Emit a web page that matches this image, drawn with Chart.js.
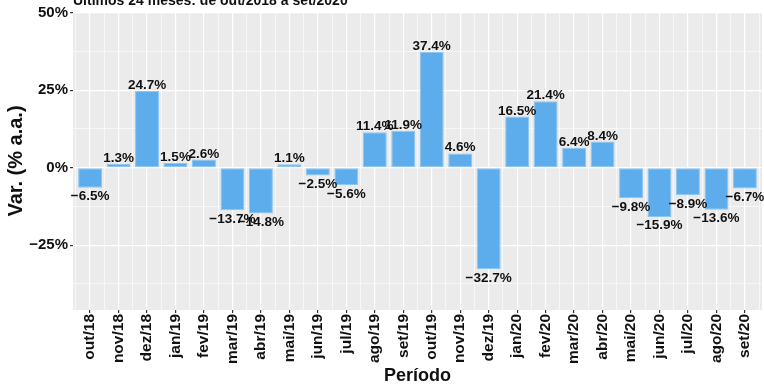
<!DOCTYPE html>
<html>
<head>
<meta charset="utf-8">
<script src="https://cdn.jsdelivr.net/npm/chart.js@4/dist/chart.umd.min.js"></script>
<style>
  html, body { margin: 0; padding: 0; background: #ffffff; }
  #wrap { width: 764px; height: 387px; position: relative; }
</style>
</head>
<body>
<div id="wrap"><canvas id="c" width="764" height="387"></canvas></div>
<script>
// Variação anual (% a.a.) por mês, de out/2018 a set/2020
const periodos = ['out/18','nov/18','dez/18','jan/19','fev/19','mar/19','abr/19','mai/19','jun/19','jul/19','ago/19','set/19',
                  'out/19','nov/19','dez/19','jan/20','fev/20','mar/20','abr/20','mai/20','jun/20','jul/20','ago/20','set/20'];
const variacao = [-6.5, 1.3, 24.7, 1.5, 2.6, -13.7, -14.8, 1.1, -2.5, -5.6, 11.4, 11.9,
                  37.4, 4.6, -32.7, 16.5, 21.4, 6.4, 8.4, -9.8, -15.9, -8.9, -13.6, -6.7];
const yTicksMajor = [-25, 0, 25, 50];
const yTicksMinor = [-37.5, -12.5, 12.5, 37.5];
const titulo = 'Últimos 24 meses: de out/2018 a set/2020';

const FONT = "'Liberation Sans', Arial, Helvetica, sans-serif";
const fmtPct = v => (v < 0 ? '\u2212' : '') + Math.abs(v).toFixed(1) + '%';
const fmtTick = v => (v < 0 ? '\u2212' : '') + Math.abs(v) + '%';

// grey panel behind the plot area
const panelBg = {
  id: 'panelBg',
  beforeDraw(chart) {
    const { ctx, chartArea: a } = chart;
    ctx.save();
    ctx.fillStyle = '#ebebeb';
    ctx.fillRect(a.left, a.top, a.right - a.left, a.bottom - a.top);
    ctx.restore();
  }
};

// value labels above / below each bar, and the heading line
const barLabels = {
  id: 'barLabels',
  afterDatasetsDraw(chart) {
    const { ctx } = chart;
    const meta = chart.getDatasetMeta(0);
    ctx.save();
    ctx.font = 'bold 13.5px ' + FONT;
    ctx.fillStyle = '#111111';
    ctx.textAlign = 'center';
    meta.data.forEach((bar, i) => {
      const v = variacao[i];
      if (v >= 0) {
        ctx.textBaseline = 'alphabetic';
        ctx.fillText(fmtPct(v), bar.x, bar.y - 2);
      } else {
        ctx.textBaseline = 'top';
        ctx.fillText(fmtPct(v), bar.x, bar.y + 2);
      }
    });
    ctx.font = 'bold 14px ' + FONT;
    ctx.textAlign = 'left';
    ctx.textBaseline = 'alphabetic';
    ctx.fillText(titulo, chart.chartArea.left, 4.5);
    ctx.restore();
  }
};

const isMajorX = v => Number.isInteger(v);
const isMajorY = v => yTicksMajor.includes(v);

new Chart(document.getElementById('c'), {
  type: 'bar',
  data: {
    datasets: [{
      data: variacao.map((v, i) => ({ x: i, y: v })),
      backgroundColor: '#5dadec',
      borderColor: '#8ec6f2',
      borderWidth: 1,
      borderSkipped: false,
      // grid ticks sit every half month, so the bar spans 1.68 of that step
      barPercentage: 1.68,
      categoryPercentage: 1.0
    }]
  },
  options: {
    responsive: false,
    animation: false,
    devicePixelRatio: 1,
    layout: { padding: { top: 12, right: 2, left: 0, bottom: 0 } },
    plugins: { legend: { display: false }, tooltip: { enabled: false }, title: { display: false } },
    scales: {
      x: {
        type: 'linear',
        min: -0.6,
        max: 23.6,
        offset: false,
        afterBuildTicks(scale) {
          const t = [];
          for (let v = -0.5; v <= 23.5; v += 0.5) t.push({ value: v });
          scale.ticks = t;
        },
        afterFit(scale) {
          scale.height = 77;
          scale.paddingLeft = 0;
          scale.paddingRight = 0;
        },
        border: { display: false },
        grid: {
          offset: false,
          color: '#ffffff',
          lineWidth: ctx => (ctx.tick && isMajorX(ctx.tick.value)) ? 1.2 : 0.6,
          tickColor: ctx => (ctx.tick && isMajorX(ctx.tick.value)) ? '#333333' : 'rgba(0,0,0,0)',
          tickLength: 3,
          drawTicks: true
        },
        ticks: {
          autoSkip: false,
          minRotation: 90,
          maxRotation: 90,
          padding: 1,
          color: '#111111',
          font: { family: FONT, size: 15.5, weight: 'bold' },
          callback: v => isMajorX(v) ? periodos[v] : ''
        },
        title: {
          display: true,
          text: 'Período',
          color: '#111111',
          font: { family: FONT, size: 18, weight: 'bold' },
          padding: { top: 0, bottom: 0 }
        }
      },
      y: {
        type: 'linear',
        min: -45.9,
        max: 50.2,
        afterBuildTicks(scale) {
          scale.ticks = yTicksMinor.concat(yTicksMajor).sort((a, b) => a - b).map(v => ({ value: v }));
        },
        afterFit(scale) { scale.width = 73; },
        border: { display: false },
        grid: {
          color: '#ffffff',
          lineWidth: ctx => (ctx.tick && isMajorY(ctx.tick.value)) ? 1.2 : 0.6,
          tickColor: ctx => (ctx.tick && isMajorY(ctx.tick.value)) ? '#333333' : 'rgba(0,0,0,0)',
          tickLength: 3,
          drawTicks: true
        },
        ticks: {
          padding: 2,
          color: '#111111',
          font: { family: FONT, size: 15, weight: 'bold' },
          callback: v => isMajorY(v) ? fmtTick(v) : ''
        },
        title: {
          display: true,
          text: 'Var. (% a.a.)',
          color: '#111111',
          font: { family: FONT, size: 20, weight: 'bold' },
          padding: { top: 4, bottom: 0 }
        }
      }
    }
  },
  plugins: [panelBg, barLabels]
});
</script>
</body>
</html>
